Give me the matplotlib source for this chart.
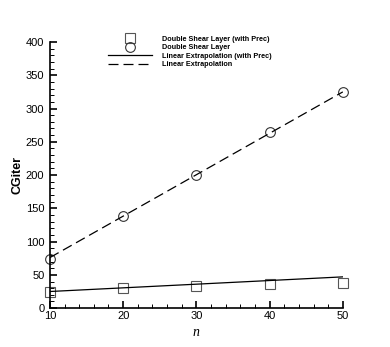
import numpy as np
import matplotlib
matplotlib.use('Agg')
import matplotlib.pyplot as plt
from matplotlib.ticker import MultipleLocator

plt.rcParams['font.family'] = ['Liberation Sans', 'DejaVu Sans']

n = [10, 20, 30, 40, 50]
shear_prec = [24, 30, 33, 36, 38]
shear = [74, 138, 200, 265, 325]
fit_n = [10, 50]
fit_prec = [25, 47]
fit_noprec = [76, 325]

fig = plt.figure(figsize=(3.9, 3.47), dpi=100)
ax = fig.add_axes([0.128, 0.112, 0.751, 0.767])

ax.plot(n, shear_prec, 's', mfc='none', mec='#555555', ms=7, mew=0.8,
        clip_on=False, label='Double Shear Layer (with Prec)')
ax.plot(n, shear, 'o', mfc='none', mec='#333333', ms=7, mew=0.8,
        clip_on=False, label='Double Shear Layer')
ax.plot(fit_n, fit_prec, '-', color='k', lw=0.9, label='Linear Extrapolation (with Prec)')
ax.plot(fit_n, fit_noprec, '--', color='k', lw=0.9, dashes=(8, 4),
        label='Linear Extrapolation')

ax.set_xlim(10, 50)
ax.set_ylim(0, 400)
ax.xaxis.set_major_locator(MultipleLocator(10))
ax.xaxis.set_minor_locator(MultipleLocator(2))
ax.yaxis.set_major_locator(MultipleLocator(50))
ax.yaxis.set_minor_locator(MultipleLocator(10))
ax.tick_params(which='both', direction='in', labelsize=8)
ax.tick_params(axis='x', pad=2)
ax.tick_params(axis='y', pad=4)
ax.tick_params(which='major', length=5, width=1.2)
ax.tick_params(which='minor', length=3, width=0.7)
ax.spines['top'].set_visible(False)
ax.spines['right'].set_visible(False)
ax.spines['left'].set_linewidth(1.2)
ax.spines['bottom'].set_linewidth(1.2)

ax.set_ylabel('CGiter', fontsize=9, fontweight='bold', labelpad=2)
ax.set_xlabel('n', fontsize=10, family='Liberation Serif', style='italic', labelpad=4)

fig.legend(loc='upper left', bbox_to_anchor=(0.267, 0.908), frameon=False,
           prop={'size': 5.2, 'weight': 'bold'}, handlelength=6.1,
           handletextpad=1.4, labelspacing=0.2, borderpad=0)

fig.savefig('out.png', dpi=100)
